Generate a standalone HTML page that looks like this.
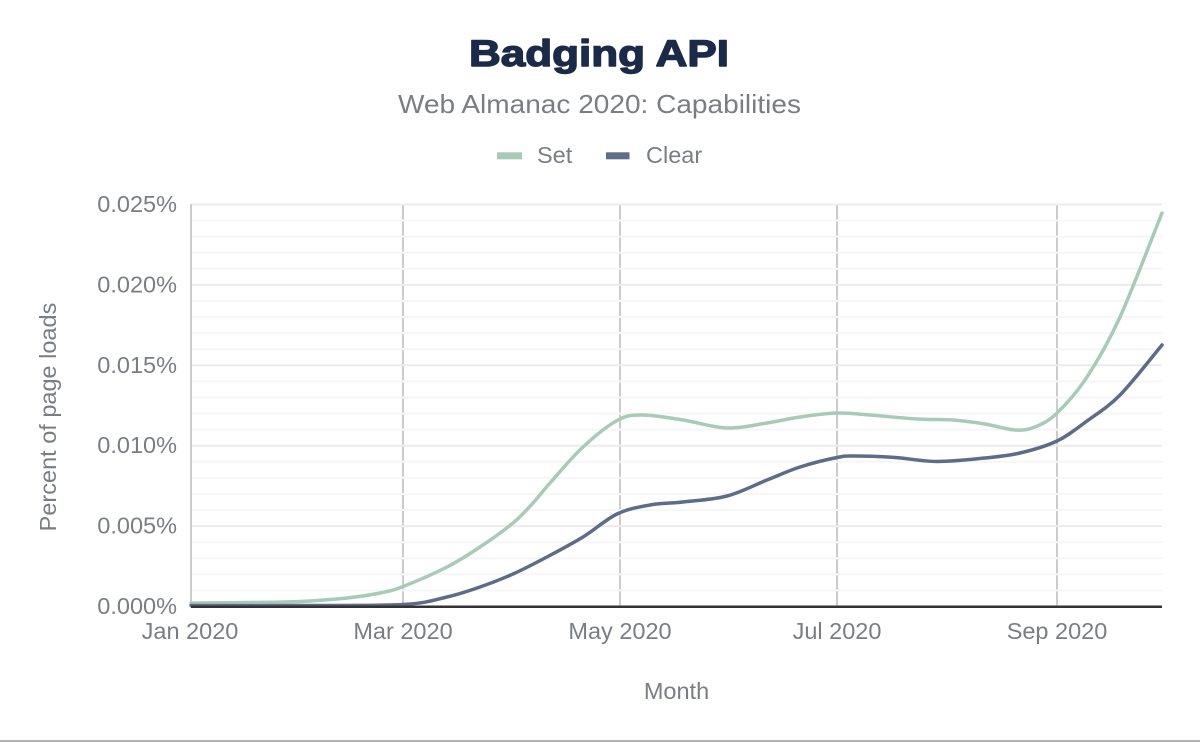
<!DOCTYPE html>
<html>
<head>
<meta charset="utf-8">
<style>
html,body{margin:0;padding:0;background:#fff;}
body{width:1200px;height:742px;overflow:hidden;}
svg{display:block;}
text{font-family:"Liberation Sans",Arial,sans-serif;}
</style>
</head>
<body>
<svg width="1200" height="742" viewBox="0 0 1200 742" xmlns="http://www.w3.org/2000/svg">
  <rect x="0" y="0" width="1200" height="742" fill="#ffffff"/>

  <!-- Title -->
  <text x="599" y="66" text-anchor="middle" font-weight="bold" font-size="37" fill="#1b2a48" stroke="#1b2a48" stroke-width="1.4" stroke-linejoin="round" textLength="260" lengthAdjust="spacingAndGlyphs">Badging API</text>
  <text x="599.5" y="113" text-anchor="middle" font-size="26" fill="#7a7e84" textLength="403" lengthAdjust="spacingAndGlyphs">Web Almanac 2020: Capabilities</text>

  <!-- Legend -->
  <rect x="497" y="152.3" width="25" height="7" fill="#a8cbb8"/>
  <text x="537" y="163" font-size="23.5" fill="#7a7e84">Set</text>
  <rect x="606" y="152.3" width="23.5" height="7" fill="#5d6c89"/>
  <text x="646" y="163" font-size="23.5" fill="#7a7e84">Clear</text>

  <!-- Minor gridlines -->
  <g stroke="#f6f6f6" stroke-width="2">
    <line x1="191" x2="1162" y1="220.6" y2="220.6"/>
    <line x1="191" x2="1162" y1="236.7" y2="236.7"/>
    <line x1="191" x2="1162" y1="252.7" y2="252.7"/>
    <line x1="191" x2="1162" y1="268.8" y2="268.8"/>
    <line x1="191" x2="1162" y1="301.0" y2="301.0"/>
    <line x1="191" x2="1162" y1="317.1" y2="317.1"/>
    <line x1="191" x2="1162" y1="333.1" y2="333.1"/>
    <line x1="191" x2="1162" y1="349.2" y2="349.2"/>
    <line x1="191" x2="1162" y1="381.4" y2="381.4"/>
    <line x1="191" x2="1162" y1="397.5" y2="397.5"/>
    <line x1="191" x2="1162" y1="413.5" y2="413.5"/>
    <line x1="191" x2="1162" y1="429.6" y2="429.6"/>
    <line x1="191" x2="1162" y1="461.8" y2="461.8"/>
    <line x1="191" x2="1162" y1="477.9" y2="477.9"/>
    <line x1="191" x2="1162" y1="493.9" y2="493.9"/>
    <line x1="191" x2="1162" y1="510.0" y2="510.0"/>
    <line x1="191" x2="1162" y1="542.2" y2="542.2"/>
    <line x1="191" x2="1162" y1="558.3" y2="558.3"/>
    <line x1="191" x2="1162" y1="574.3" y2="574.3"/>
    <line x1="191" x2="1162" y1="590.4" y2="590.4"/>
  </g>
  <!-- Major gridlines -->
  <g stroke="#ececec" stroke-width="2">
    <line x1="191" x2="1162" y1="204.5" y2="204.5"/>
    <line x1="191" x2="1162" y1="284.9" y2="284.9"/>
    <line x1="191" x2="1162" y1="365.3" y2="365.3"/>
    <line x1="191" x2="1162" y1="445.7" y2="445.7"/>
    <line x1="191" x2="1162" y1="526.1" y2="526.1"/>
  </g>

  <!-- Vertical grid -->
  <line x1="191" x2="191" y1="204" y2="606" stroke="#cccccc" stroke-width="2"/>
  <g stroke="#cccccc" stroke-width="2" stroke-dasharray="14 2.08" stroke-dashoffset="0">
    <line x1="403" x2="403" y1="205.5" y2="606"/>
    <line x1="620" x2="620" y1="205.5" y2="606"/>
    <line x1="837" x2="837" y1="205.5" y2="606"/>
    <line x1="1057" x2="1057" y1="205.5" y2="606"/>
  </g>

  <!-- Y tick labels -->
  <g font-size="23.5" fill="#7a7e84" text-anchor="end">
    <text x="177" y="212">0.025%</text>
    <text x="177" y="292.4">0.020%</text>
    <text x="177" y="372.8">0.015%</text>
    <text x="177" y="453.2">0.010%</text>
    <text x="177" y="533.6">0.005%</text>
    <text x="177" y="614">0.000%</text>
  </g>

  <!-- X tick labels -->
  <g font-size="23.5" fill="#7a7e84" text-anchor="middle">
    <text x="190" y="639">Jan 2020</text>
    <text x="403" y="639">Mar 2020</text>
    <text x="620" y="639">May 2020</text>
    <text x="837" y="639">Jul 2020</text>
    <text x="1057" y="639">Sep 2020</text>
  </g>

  <!-- Axis titles -->
  <text x="676.5" y="699" text-anchor="middle" font-size="23.5" fill="#7a7e84">Month</text>
  <text transform="translate(56,417) rotate(-90)" text-anchor="middle" font-size="23.5" fill="#7a7e84">Percent of page loads</text>

  <!-- Series: Set -->
  <path fill="none" stroke="#a8cbb8" stroke-width="3.5" stroke-linecap="round" stroke-linejoin="round"
    d="M191,603
       C200.83,602.92 231.83,602.75 250,602.5
       C268.17,602.25 283.83,602.25 300,601.5
       C316.17,600.75 333.67,599.42 347,598
       C360.33,596.58 370.67,594.92 380,593
       C389.33,591.08 391.83,590.83 403,586.5
       C414.17,582.17 434.17,573.58 447,567
       C459.83,560.42 469,554.33 480,547
       C491,539.67 504.17,530.33 513,523
       C521.83,515.67 526.83,509.67 533,503
       C539.17,496.33 541.67,492.33 550,483
       C558.33,473.67 571.67,457.5 583,447
       C594.33,436.5 608,425.33 618,420
       C628,414.67 632.17,415 643,415
       C653.83,415 669,417.83 683,420
       C697,422.17 713,427.5 727,428
       C741,428.5 754.83,424.83 767,423
       C779.17,421.17 788.33,418.67 800,417
       C811.67,415.33 825.33,413.33 837,413
       C848.67,412.67 856.67,414 870,415
       C883.33,416 903.17,418.17 917,419
       C930.83,419.83 941.67,419.17 953,420
       C964.33,420.83 974.67,422.33 985,424
       C995.33,425.67 1006.67,429.5 1015,430
       C1023.33,430.5 1028,429.83 1035,427
       C1042,424.17 1048.33,421.33 1057,413
       C1065.67,404.67 1076.5,393 1087,377
       C1097.5,361 1107.5,344.33 1120,317
       C1132.5,289.67 1155,230.33 1162,213"/>

  <!-- Series: Clear -->
  <path fill="none" stroke="#5d6c89" stroke-width="3.5" stroke-linecap="round" stroke-linejoin="round"
    d="M191,605.5
       C209.17,605.5 264.67,605.67 300,605.5
       C335.33,605.33 378.5,605.92 403,604.5
       C427.5,603.08 434.17,599.92 447,597
       C459.83,594.08 469,590.83 480,587
       C491,583.17 502.17,578.83 513,574
       C523.83,569.17 533.33,564.17 545,558
       C556.67,551.83 571,544.33 583,537
       C595,529.67 605.83,519.33 617,514
       C628.17,508.67 639,507 650,505
       C661,503 670.17,503.5 683,502
       C695.83,500.5 713,499.67 727,496
       C741,492.33 754.83,484.83 767,480
       C779.17,475.17 788.33,470.75 800,467
       C811.67,463.25 827.83,459.33 837,457.5
       C846.17,455.67 845.33,456 855,456
       C864.67,456 881.33,456.58 895,457.5
       C908.67,458.42 922,461.42 937,461.5
       C952,461.58 971.17,459.42 985,458
       C998.83,456.58 1008,455.83 1020,453
       C1032,450.17 1045.83,446.33 1057,441
       C1068.17,435.67 1076.5,428.67 1087,421
       C1097.5,413.33 1107.5,407.67 1120,395
       C1132.5,382.33 1155,353.33 1162,345"/>

  <!-- X axis baseline -->
  <line x1="191" x2="1162" y1="606.8" y2="606.8" stroke="#333333" stroke-width="2.5"/>

  <!-- Bottom border -->
  <line x1="0" x2="1200" y1="741" y2="741" stroke="#9a9a9a" stroke-width="1.5"/>
</svg>
</body>
</html>
